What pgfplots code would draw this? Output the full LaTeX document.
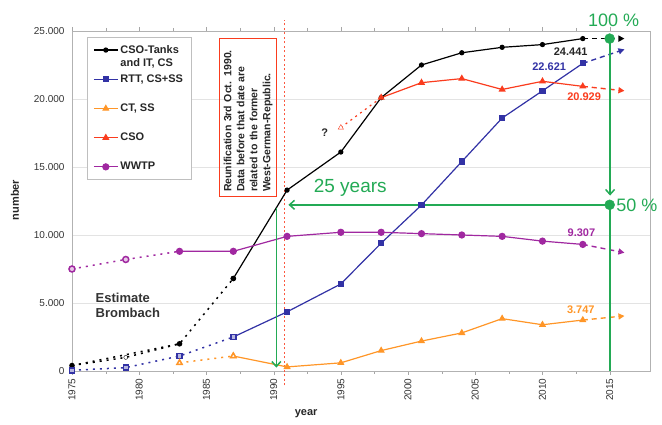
\documentclass[border=0pt]{standalone}
\usepackage{pgfplots}
\pgfplotsset{compat=1.18}
\usepackage{fontspec}
\setmainfont{Liberation Sans}
\usetikzlibrary{arrows.meta}
\definecolor{cblue}{RGB}{50,50,165}
\definecolor{corange}{RGB}{255,150,40}
\definecolor{cred}{RGB}{250,60,30}
\definecolor{cpurple}{RGB}{160,40,160}
\definecolor{cgreen}{RGB}{35,170,85}
\begin{document}
\begin{tikzpicture}
\path[use as bounding box] (-72pt,-54pt) rectangle (590pt,371pt);
\begin{axis}[
  at={(0pt,0pt)}, anchor=south west,
  scale only axis, width=578pt, height=340pt,
  xmin=1975, xmax=2018, ymin=0, ymax=25000,
  clip=false,
  xtick={1975,1980,...,2015},
  ytick={0,5000,...,25000},
  minor x tick num=1,
  tick align=outside,
  major tick length=4pt, minor tick length=3pt,
  ytick style={draw=none},
  tick style={gray!70},
  axis line style={gray!60},
  ymajorgrids, grid style={gray!22, line width=0.8pt},
  /pgf/number format/assume math mode=true,
  x tick label style={rotate=90, anchor=east, font=\fontsize{10}{12}\selectfont, text=black!80,
     /pgf/number format/1000 sep={}},
  y tick label style={font=\fontsize{10}{12}\selectfont, text=black!80,
     /pgf/number format/1000 sep={.}},
  scaled y ticks=false,
  xlabel={year}, ylabel={number},
  xlabel style={at={(axis description cs:0.405,-0.127)}, anchor=center, font=\bfseries\fontsize{11}{13}\selectfont, text=black!85},
  ylabel style={at={(axis description cs:-0.0986,0.503)}, anchor=center, rotate=0, font=\bfseries\fontsize{11}{13}\selectfont, text=black!85},
  legend style={at={(axis description cs:0.026,0.982)}, anchor=north west, draw=gray!50, fill=white,
     font=\bfseries\fontsize{11}{13}\selectfont, text=black!85, row sep=16pt, inner xsep=6pt, inner ysep=6pt},
  legend cell align=left,
  legend image code/.code={\draw[mark repeat=2,mark phase=2] plot coordinates {(0pt,0pt)(12pt,0pt)(24pt,0pt)};},
]
% ---- reunification line (drawn first, under everything)
\addplot[forget plot, color=cred!85, line width=1.2pt, dash pattern=on 2pt off 2.5pt] coordinates {(1990.78,-1050)(1990.78,25800)};
% ---- main series (legend)
\addplot[black, line width=1.2pt, mark=*, mark size=2pt] coordinates {
 (1987,6800)(1991,13300)(1995,16100)(1998,20100)(2001,22500)(2004,23400)(2007,23800)(2010,24000)(2013,24441)};
\addlegendentry{\makebox[0pt][l]{\raisebox{-13pt}[0pt][0pt]{and IT, CS}}CSO-Tanks}
\addplot[cblue, line width=1.2pt, mark=square*, mark size=2.5pt] coordinates {
 (1987,2500)(1991,4350)(1995,6400)(1998,9400)(2001,12200)(2004,15400)(2007,18600)(2010,20600)(2013,22621)};
\addlegendentry{RTT, CS+SS}
\addplot[corange, line width=1.2pt, mark=triangle*, mark size=3pt] coordinates {
 (1987,1100)(1991,300)(1995,600)(1998,1500)(2001,2200)(2004,2800)(2007,3850)(2010,3400)(2013,3747)};
\addlegendentry{CT, SS}
\addplot[cred, line width=1.2pt, mark=triangle*, mark size=3pt] coordinates {
 (1998,20100)(2001,21200)(2004,21500)(2007,20700)(2010,21300)(2013,20929)};
\addlegendentry{CSO}
\addplot[cpurple, line width=1.2pt, mark=*, mark size=3pt] coordinates {
 (1983,8800)(1987,8800)(1991,9900)(1995,10200)(1998,10200)(2001,10100)(2004,10000)(2007,9900)(2010,9550)(2013,9307)};
\addlegendentry{WWTP}
% ---- estimated (dotted) parts
\addplot[forget plot, black, line width=1.5pt, dash pattern=on 2pt off 5pt, mark=*, mark size=2pt,
   mark options={solid, fill=black}] coordinates {(1975,400)(1983,2000)(1987,6800)};
\addplot[forget plot, black, line width=1.5pt, dash pattern=on 2pt off 5pt] coordinates {(1975,400)(1979,1000)(1983,2000)};
\addplot[forget plot, only marks, black, mark=o, mark size=2pt, mark options={fill=white}] coordinates {(1979,1000)};
\addplot[forget plot, cblue, line width=1.5pt, dash pattern=on 2pt off 5pt, mark=square*, mark size=2.5pt,
   mark options={solid, fill=cblue!35}] coordinates {(1975,50)(1979,250)(1983,1100)(1987,2500)};
\addplot[forget plot, corange, line width=1.5pt, dash pattern=on 2pt off 5pt, mark=triangle*, mark size=3pt,
   mark options={solid, fill=white}] coordinates {(1983,600)(1987,1100)};
\addplot[forget plot, cred, line width=1.2pt, dash pattern=on 2pt off 4pt] coordinates {(1995,17900)(1998,20100)};
\addplot[forget plot, only marks, cred, mark=triangle*, mark size=3pt, mark options={fill=white}] coordinates {(1995,17900)};
\addplot[forget plot, cpurple, line width=1.5pt, dash pattern=on 2pt off 5pt, mark=*, mark size=3pt,
   mark options={solid, fill=cpurple!25}] coordinates {(1975,7500)(1979,8200)};
\addplot[forget plot, cpurple, line width=1.5pt, dash pattern=on 2pt off 5pt] coordinates {(1979,8200)(1983,8800)};
% ---- forecast arrows
\addplot[forget plot, black, line width=1.4pt, dash pattern=on 5pt off 4pt, -{Triangle[length=6pt,width=6pt]}] coordinates {(2013,24441)(2016.1,24441)};
\addplot[forget plot, cblue, line width=1.4pt, dash pattern=on 5pt off 4pt, -{Triangle[length=6pt,width=6pt]}] coordinates {(2013,22621)(2016.1,23650)};
\addplot[forget plot, cred, line width=1.4pt, dash pattern=on 5pt off 4pt, -{Triangle[length=6pt,width=6pt]}] coordinates {(2013,20929)(2016.1,20600)};
\addplot[forget plot, cpurple, line width=1.4pt, dash pattern=on 5pt off 4pt, -{Triangle[length=6pt,width=6pt]}] coordinates {(2013,9307)(2016.1,8700)};
\addplot[forget plot, corange, line width=1.4pt, dash pattern=on 5pt off 4pt, -{Triangle[length=6pt,width=6pt]}] coordinates {(2013,3747)(2016.1,4050)};
% ---- green annotations
\addplot[forget plot, cgreen, line width=1.5pt, -{Straight Barb[length=5pt,width=9pt]}] coordinates {(2015.03,24441)(2015.03,12900)};
\addplot[forget plot, cgreen, line width=1.5pt] coordinates {(2015.03,12220)(2015.03,0)};
\addplot[forget plot, cgreen, line width=1.5pt, -{Straight Barb[length=5pt,width=9pt]}] coordinates {(2015,12220)(1991.1,12220)};
\addplot[forget plot, cgreen, line width=1.5pt, -{Straight Barb[length=5pt,width=9pt]}] coordinates {(1990.2,12000)(1990.2,250)};
\addplot[forget plot, only marks, cgreen, mark=*, mark size=5pt] coordinates {(2015,24441)(2015,12220)};
% ---- texts
\node[draw=cred, line width=0.8pt, rotate=90, align=left, text width=150pt, inner sep=4pt,
  font=\bfseries\fontsize{10.5}{13}\selectfont, text=black!85] at (axis cs:1988.1,18680)
  {Reunification 3rd Oct. 1990.\\Data before that date are\\related to the former\\West-German-Republic.};
\node[anchor=west, align=left, font=\bfseries\fontsize{13}{15}\selectfont, text=black!80] at (axis cs:1976.5,4850) {Estimate\\Brombach};
\node[font=\bfseries\fontsize{11}{13}\selectfont, text=black!85] at (axis cs:2012.1,23460) {24.441};
\node[font=\bfseries\fontsize{11}{13}\selectfont, text=cblue] at (axis cs:2010.5,22350) {22.621};
\node[font=\bfseries\fontsize{11}{13}\selectfont, text=cred] at (axis cs:2013.1,20150) {20.929};
\node[font=\bfseries\fontsize{11}{13}\selectfont, text=cpurple] at (axis cs:2012.9,10200) {9.307};
\node[font=\bfseries\fontsize{11}{13}\selectfont, text=corange] at (axis cs:2012.85,4500) {3.747};
\node[font=\bfseries\fontsize{11}{13}\selectfont, text=black!85] at (axis cs:1993.8,17500) {?};
\node[font=\fontsize{19}{22}\selectfont, text=cgreen] at (axis cs:1995.7,13450) {25 years};
\node[font=\fontsize{18}{21}\selectfont, text=cgreen] at (axis cs:2015.3,25800) {100 \%};
\node[anchor=west, inner sep=1pt, font=\fontsize{18}{21}\selectfont, text=cgreen] at (axis cs:2015.4,12220) {50 \%};
\end{axis}
\end{tikzpicture}
\end{document}
